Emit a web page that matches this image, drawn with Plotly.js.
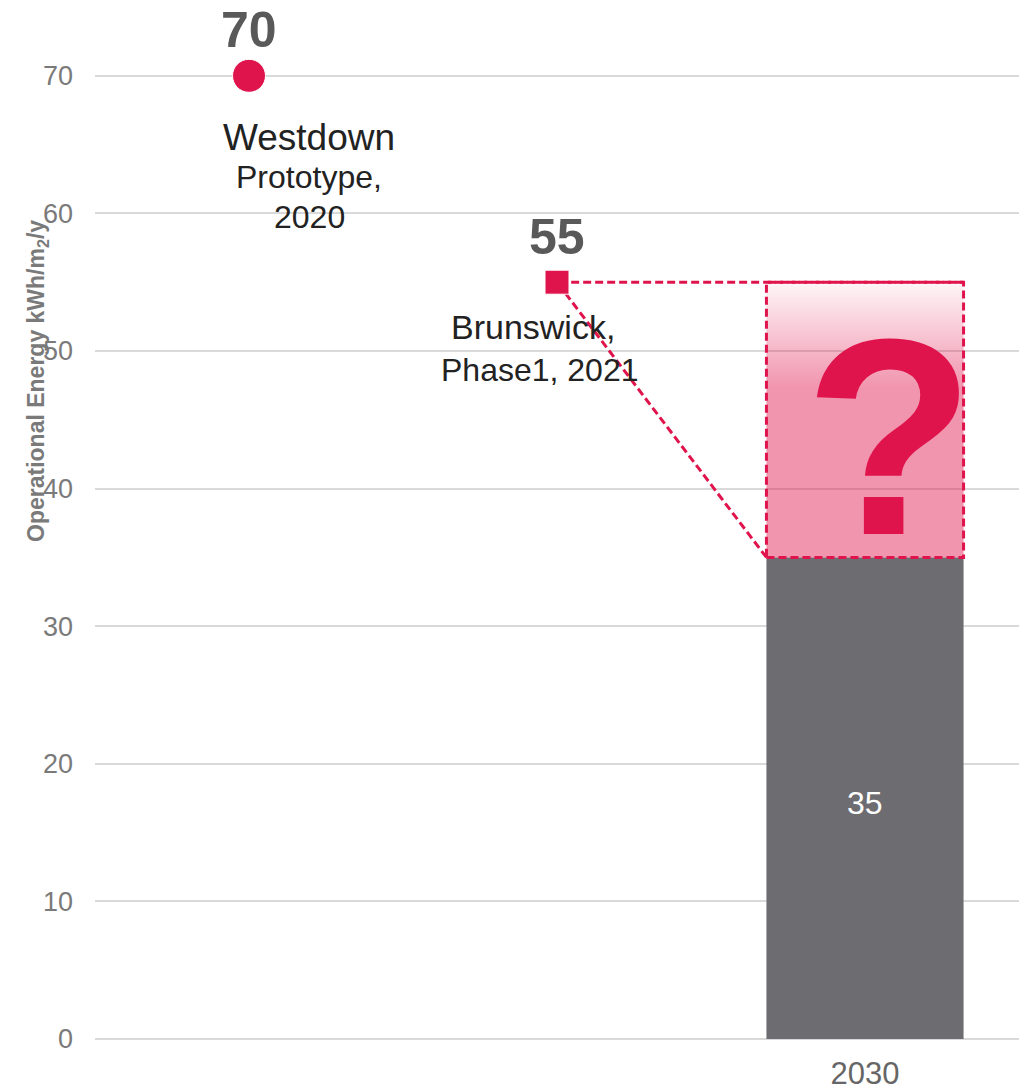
<!DOCTYPE html>
<html>
<head>
<meta charset="utf-8">
<script src="https://cdn.plot.ly/plotly-3.0.1.min.js"></script>
<style>html,body{margin:0;padding:0;background:#fff;}#chart{width:1031px;height:1092px;}</style>
</head>
<body>
<div id="chart"></div>
<script>
// ---- data ----
const pointNames = ['Westdown', 'Brunswick,'];
const pointSubLines = [['Prototype,', '2020'], ['Phase1, 2021']];
const pointValues = [70, 55];
const pointSymbols = ['circle', 'square'];
const barCategories = ['2030'];
const barValues = [35];
const yTickValues = [0, 10, 20, 30, 40, 50, 60, 70];
const yAxisTitle = 'Operational Energy kWh/m<sub>2</sub>/y';

// ---- layout helpers (positions on a numeric x axis) ----
const pointX = [1, 3];
const barX = [5];
const barWidth = 1.28;
const crimson = '#E0144C';
const FONT = 'Liberation Sans, Arial, sans-serif';

const left = barX[0] - barWidth / 2, right = barX[0] + barWidth / 2;
const lo = barValues[0], hi = pointValues[1];

const traces = [];
traces.push({
  type: 'bar', x: barX, y: barValues, width: barWidth,
  marker: {color: '#6D6C71'},
  hoverinfo: 'skip', showlegend: false
});
// uncertainty box with vertical gradient
traces.push({
  type: 'scatter', mode: 'lines',
  x: [left, right, right, left, left], y: [lo, lo, hi, hi, lo],
  fill: 'toself',
  fillgradient: {type: 'vertical', start: lo, stop: hi,
    colorscale: [[0, 'rgba(224,20,76,0.45)'], [0.62, 'rgba(224,20,76,0.45)'], [1, 'rgba(224,20,76,0.04)']]},
  line: {color: crimson, width: 3, dash: '8px,4px'},
  hoverinfo: 'skip', showlegend: false
});
// connectors from Brunswick point
traces.push({
  type: 'scatter', mode: 'lines',
  x: [left, pointX[1], right], y: [lo, pointValues[1], hi],
  line: {color: crimson, width: 3, dash: '8px,4px'},
  hoverinfo: 'skip', showlegend: false
});
traces.push({
  type: 'scatter', mode: 'markers',
  x: pointX, y: pointValues, opacity: 1,
  marker: {color: crimson, symbol: pointSymbols, size: [33, 24], opacity: 1},
  hoverinfo: 'skip', showlegend: false
});

const annotations = [];
const nameShift = [-39, -24];
const nameXShift = [60, -24];
const nameSize = [37, 34];
const subGap = [42, 44];
pointValues.forEach((v, i) => {
  annotations.push({x: pointX[i], y: v, text: '<b>' + v + '</b>', showarrow: false,
    yanchor: 'bottom', yshift: i === 0 ? 16 : 15, font: {family: FONT, size: 50, color: '#595959'}});
  annotations.push({x: pointX[i], y: v, text: pointNames[i], showarrow: false, xshift: nameXShift[i],
    yanchor: 'top', yshift: nameShift[i], font: {family: FONT, size: nameSize[i], color: '#222222'}});
  pointSubLines[i].forEach((line, j) => {
    annotations.push({x: pointX[i], y: v, text: line, showarrow: false, xshift: nameXShift[i] + (i === 1 ? 7 : 0),
      yanchor: 'top', yshift: nameShift[i] - subGap[i] - 40 * j, font: {family: FONT, size: 32, color: '#222222'}});
  });
});
// value label inside the bar
annotations.push({x: barX[0], y: barValues[0] / 2, text: String(barValues[0]), showarrow: false,
  yanchor: 'middle', yshift: -5, font: {family: FONT, size: 32, color: '#ffffff'}});
annotations.push({x: barX[0] + 0.16, y: (lo + hi) / 2, text: '<b>?</b>', showarrow: false,
  yanchor: 'middle', yshift: -17, font: {family: FONT, size: 280, color: crimson}});
annotations.push({xref: 'paper', x: -0.062, y: 47.8, text: '<b>' + yAxisTitle + '</b>', showarrow: false,
  textangle: -90, xanchor: 'center', yanchor: 'middle', font: {family: FONT, size: 23, color: '#7a7a7a'}});

const layout = {
  width: 1031, height: 1092,
  margin: {l: 95, r: 12, t: 7, b: 53},
  paper_bgcolor: '#ffffff', plot_bgcolor: '#ffffff',
  font: {family: FONT},
  showlegend: false,
  xaxis: {range: [0, 6], tickvals: barX, ticktext: barCategories, showgrid: false, zeroline: false,
    showline: false, ticks: '', ticklabelstandoff: 13, tickfont: {size: 31, color: '#666666', family: FONT}},
  yaxis: {range: [0, 75], tickvals: yTickValues, showgrid: true, gridcolor: '#d9d9d9', gridwidth: 2,
    zeroline: true, zerolinecolor: '#d9d9d9', zerolinewidth: 2, showline: false, ticks: '',
    ticklabelstandoff: 21, tickfont: {size: 27, color: '#7a7a7a', family: FONT}},
  annotations: annotations
};

Plotly.newPlot('chart', traces, layout, {displayModeBar: false, staticPlot: true});
</script>
</body>
</html>
